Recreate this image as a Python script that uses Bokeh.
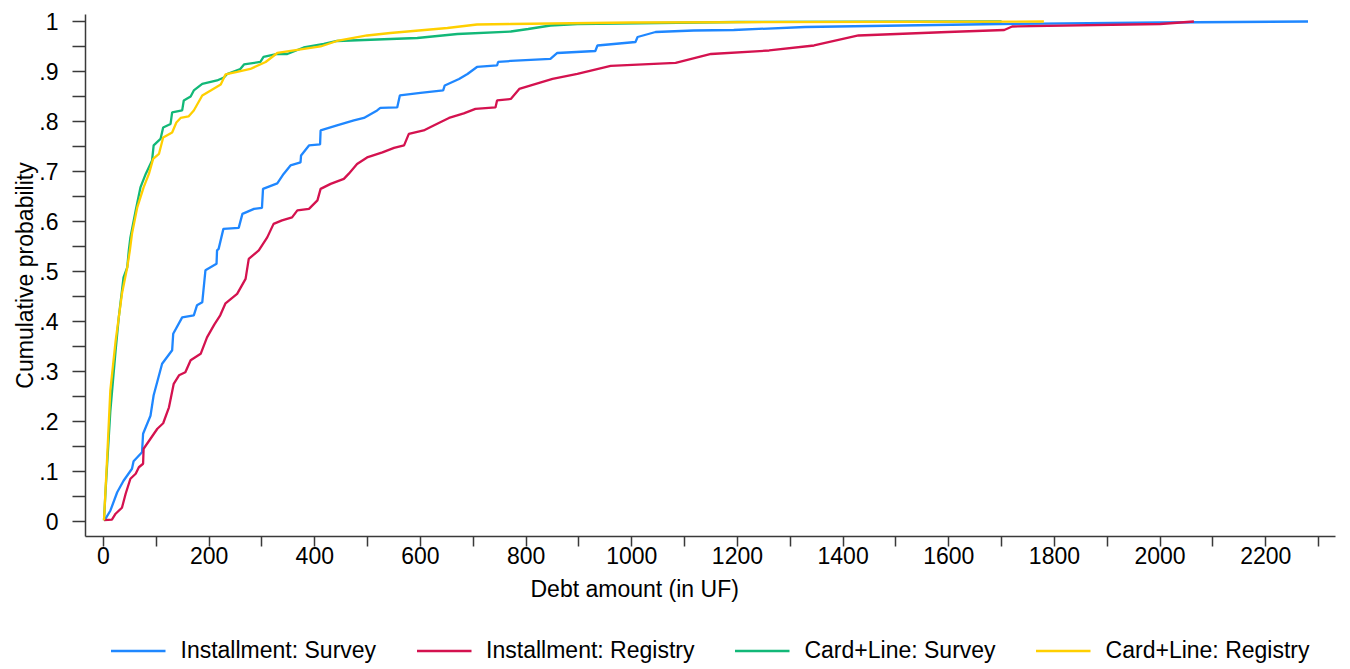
from bokeh.plotting import figure
from bokeh.models import FixedTicker, Legend, LegendItem, Title, Range1d
from bokeh.layouts import column
from bokeh.embed import file_html
from bokeh.resources import INLINE

# ---------------- data ----------------
series_names = ["Installment: Survey", "Installment: Registry",
                "Card+Line: Survey", "Card+Line: Registry"]

inst_survey_x = [3, 4, 13, 26, 38, 54, 57, 73, 75, 89, 95, 111, 130, 132, 149, 171, 177, 187, 193, 214,
                 215, 218, 227, 256, 263, 285, 300, 302, 329, 341, 354, 373, 374, 389, 410, 411, 442, 474,
                 493, 518, 524, 556, 561, 600, 643, 646, 673, 689, 707, 745, 747, 771, 846, 859, 931, 935,
                 1007, 1011, 1045, 1117, 1193, 1328, 1698, 2000, 2280]
inst_survey_y = [0.002, 0.005, 0.021, 0.058, 0.081, 0.105, 0.12, 0.138, 0.175, 0.211, 0.252, 0.315, 0.342,
                 0.375, 0.408, 0.412, 0.432, 0.438, 0.502, 0.515, 0.542, 0.545, 0.585, 0.587, 0.615, 0.625,
                 0.627, 0.665, 0.676, 0.695, 0.712, 0.718, 0.732, 0.752, 0.754, 0.782, 0.792, 0.802, 0.807,
                 0.822, 0.827, 0.828, 0.852, 0.857, 0.862, 0.872, 0.885, 0.895, 0.909, 0.912, 0.919, 0.921,
                 0.925, 0.937, 0.941, 0.952, 0.959, 0.969, 0.979, 0.982, 0.983, 0.989, 0.995, 0.998, 1.0]

inst_registry_x = [1, 16, 23, 35, 42, 51, 61, 67, 75, 76, 89, 102, 113, 124, 133, 143, 155, 165, 184, 196,
                   210, 221, 231, 253, 269, 275, 294, 310, 322, 338, 357, 367, 389, 405, 411, 430, 455, 464,
                   480, 499, 528, 550, 569, 578, 606, 625, 654, 682, 704, 742, 745, 771, 787, 850, 897, 960,
                   1083, 1150, 1260, 1345, 1429, 1598, 1705, 1720, 2000, 2064]
inst_registry_y = [0.002, 0.003, 0.015, 0.027, 0.055, 0.085, 0.095, 0.108, 0.115, 0.145, 0.165, 0.185,
                   0.196, 0.228, 0.275, 0.292, 0.298, 0.322, 0.335, 0.368, 0.394, 0.412, 0.436, 0.455,
                   0.485, 0.525, 0.542, 0.568, 0.595, 0.602, 0.608, 0.622, 0.625, 0.642, 0.665, 0.675,
                   0.685, 0.695, 0.715, 0.728, 0.738, 0.747, 0.752, 0.775, 0.782, 0.792, 0.807, 0.816,
                   0.825, 0.828, 0.842, 0.845, 0.865, 0.885, 0.895, 0.911, 0.917, 0.935, 0.942, 0.952,
                   0.972, 0.979, 0.983, 0.99, 0.995, 1.0]

card_survey_x = [1, 4, 13, 23, 29, 38, 45, 48, 51, 61, 70, 80, 92, 95, 108, 113, 127, 130, 149, 152,
                 165, 171, 187, 215, 228, 234, 259, 266, 297, 303, 329, 348, 379, 417, 442, 493, 594, 670,
                 771, 804, 846, 897, 1200, 1700]
card_survey_y = [0.002, 0.061, 0.22, 0.342, 0.408, 0.488, 0.508, 0.542, 0.568, 0.622, 0.668, 0.695, 0.722,
                 0.752, 0.765, 0.788, 0.795, 0.818, 0.822, 0.842, 0.85, 0.862, 0.875, 0.882, 0.888, 0.895,
                 0.905, 0.914, 0.919, 0.929, 0.935, 0.935, 0.948, 0.955, 0.961, 0.963, 0.967, 0.975, 0.98,
                 0.985, 0.992, 0.995, 0.999, 1.0]

card_registry_x = [1, 7, 13, 23, 35, 45, 50, 54, 64, 76, 86, 94, 105, 113, 130, 138, 146, 161, 171, 187,
                   203, 222, 231, 253, 278, 307, 329, 367, 411, 442, 499, 543, 651, 707, 771, 1000, 1780]
card_registry_y = [0.002, 0.128, 0.262, 0.361, 0.455, 0.508, 0.542, 0.575, 0.628, 0.668, 0.695, 0.725,
                   0.735, 0.768, 0.778, 0.798, 0.807, 0.81, 0.822, 0.852, 0.862, 0.874, 0.894, 0.899,
                   0.905, 0.919, 0.937, 0.943, 0.95, 0.961, 0.972, 0.977, 0.987, 0.994, 0.995, 0.998, 1.0]

x_ticks = [0, 200, 400, 600, 800, 1000, 1200, 1400, 1600, 1800, 2000, 2200]
x_minor_ticks = [100, 300, 500, 700, 900, 1100, 1300, 1500, 1700, 1900, 2100, 2300]
y_ticks = [0, 0.1, 0.2, 0.3, 0.4, 0.5, 0.6, 0.7, 0.8, 0.9, 1]
y_tick_labels = ["0", ".1", ".2", ".3", ".4", ".5", ".6", ".7", ".8", ".9", "1"]
y_minor_ticks = [0.05, 0.15, 0.25, 0.35, 0.45, 0.55, 0.65, 0.75, 0.85, 0.95]
x_title = "Debt amount (in UF)"
y_title = "Cumulative probability"

colors = ["#1F87FF", "#D4124F", "#12B878", "#FFCF00"]

series = [(inst_survey_x, inst_survey_y), (inst_registry_x, inst_registry_y),
          (card_survey_x, card_survey_y), (card_registry_x, card_registry_y)]

# ---------------- main figure ----------------
FONT = "Liberation Sans"
FS = "23px"
X_RANGE = (-34, 2332)

p = figure(width=1350, height=631, output_backend="svg", toolbar_location=None,
           x_range=Range1d(*X_RANGE), y_range=Range1d(-0.0306, 1.014),
           min_border_left=85, min_border_right=15, min_border_top=14, min_border_bottom=95)
p.outline_line_color = None
p.grid.visible = False
p.background_fill_color = "white"
p.border_fill_color = "white"

axis_color = "#3a3a3a"
for ax in (p.xaxis[0], p.yaxis[0]):
    ax.axis_line_color = axis_color
    ax.axis_line_width = 1.5
    ax.major_tick_line_color = axis_color
    ax.minor_tick_line_color = axis_color
    ax.major_tick_line_width = 1.5
    ax.minor_tick_line_width = 1.5
    ax.major_tick_in = 0
    ax.minor_tick_in = 0
    ax.major_label_text_font = FONT
    ax.major_label_text_font_size = FS
    ax.major_label_text_color = "black"
    ax.axis_label_text_font = FONT
    ax.axis_label_text_font_size = FS
    ax.axis_label_text_font_style = "normal"
    ax.axis_label_text_color = "black"

xa = p.xaxis[0]
xa.ticker = FixedTicker(ticks=x_ticks, minor_ticks=x_minor_ticks)
xa.major_tick_out = 10
xa.minor_tick_out = 10
xa.major_label_standoff = 0

ya = p.yaxis[0]
ya.ticker = FixedTicker(ticks=y_ticks, minor_ticks=y_minor_ticks)
ya.major_tick_out = 13
ya.minor_tick_out = 13
ya.major_label_standoff = 14
ya.major_label_overrides = {t: l for t, l in zip(y_ticks, y_tick_labels)}
ya.axis_label = y_title
ya.axis_label_standoff = -2

for (xs, ys), c in zip(series, colors):
    p.line(xs, ys, line_color=c, line_width=2.3)

xt = Title(text=x_title, align="left", offset=445, text_font=FONT, text_font_size=FS,
           text_font_style="normal", text_color="black", standoff=14)
p.add_layout(xt, "below")

# ---------------- legend strip (same series, plotted out of view) ----------------
lg = figure(width=1350, height=38, output_backend="svg", toolbar_location=None,
            x_range=Range1d(*X_RANGE), y_range=Range1d(5, 6),
            x_axis_location=None, y_axis_location=None,
            min_border_left=85, min_border_right=15, min_border_top=0, min_border_bottom=0)
lg.outline_line_color = None
lg.grid.visible = False
lg.background_fill_color = "white"
lg.border_fill_color = "white"

items = []
for (xs, ys), c, name in zip(series, colors, series_names):
    r = lg.line(xs, ys, line_color=c, line_width=2.3)
    items.append(LegendItem(label=name, renderers=[r]))

legend = Legend(items=items, orientation="horizontal", location="center",
                glyph_width=55, glyph_height=20, label_standoff=15, spacing=40,
                border_line_color=None, background_fill_alpha=0,
                label_text_font=FONT, label_text_font_size=FS, label_text_color="black",
                padding=0, margin=0)
lg.add_layout(legend, "center")

layout = column(p, lg, spacing=0)
open("out.html", "w").write(file_html(layout, INLINE))
